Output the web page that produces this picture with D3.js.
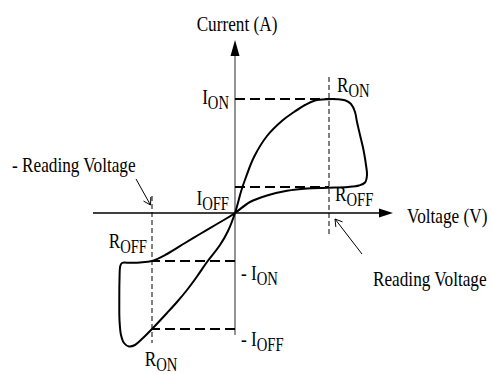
<!DOCTYPE html>
<html>
<head>
<meta charset="utf-8">
<script src="https://cdn.jsdelivr.net/npm/d3@7"></script>
<style>
  html, body { margin: 0; padding: 0; background: #fff; }
  svg { display: block; }
  text { font-family: "Liberation Serif", "Times New Roman", Times, serif; fill: #000; }
</style>
</head>
<body>
<script>
// Bipolar resistive-switching I–V sweep (voltage in V, current in arbitrary units).
// The sweep starts at 0 V, follows the OFF branch to +V, switches ON,
// returns through the origin along the ON branch to -V, switches OFF and comes back.
const sweepV = [0, 0.15, 0.32, 0.52, 0.72, 0.94, 1.13, 1.24, 1.30, 1.32, 1.31, 1.285, 1.25, 1.22, 1.20,
  1.16, 1.10, 1.02, 0.93, 0.80, 0.70, 0.59, 0.48, 0.32, 0.19, 0.11, 0.065,
  0, -0.07, -0.15, -0.28, -0.38, -0.48, -0.58, -0.68, -0.83, -0.92, -1.00, -1.06, -1.11, -1.14,
  -1.155, -1.157, -1.155, -1.147, -1.13, -1.05, -0.95, -0.83, -0.68, -0.50, -0.35, -0.18, -0.07];
const sweepI = [0, 0.11, 0.175, 0.222, 0.245, 0.252, 0.26, 0.275, 0.305, 0.38, 0.48, 0.63, 0.78, 0.91, 1.01,
  1.09, 1.127, 1.138, 1.138, 1.125, 1.08, 1.01, 0.93, 0.77, 0.56, 0.36, 0.23,
  0, -0.18, -0.32, -0.49, -0.635, -0.77, -0.89, -1.00, -1.16, -1.25, -1.32, -1.335, -1.30, -1.22,
  -1.07, -0.87, -0.67, -0.53, -0.50, -0.498, -0.495, -0.48, -0.41, -0.30, -0.21, -0.11, -0.045];

// Reading voltages (+ and -) and the current levels read there
const readVoltages = [0.94, -0.83];
const levelValues = [1.14, 0.26, -0.48, -1.16];   // I_ON, I_OFF, -I_ON, -I_OFF

// Axis extents
const vExtent = [-1.42, 1.58];
const iExtent = [-1.22, 1.73];

const W = 491, H = 374;
const svg = d3.select("body").append("svg").attr("width", W).attr("height", H);

const x = d3.scaleLinear().domain(vExtent).range([93, 393]);
const y = d3.scaleLinear().domain(iExtent).range([335, 40]);

// ---- axes -------------------------------------------------------------
const headLen = 14, headHalf = 4.5;
svg.append("line")
  .attr("x1", x(vExtent[0])).attr("x2", x(vExtent[1]) - headLen + 1)
  .attr("y1", y(0)).attr("y2", y(0))
  .attr("stroke", "#000").attr("stroke-width", 1.3);
svg.append("path")
  .attr("d", `M${x(vExtent[1])},${y(0)} L${x(vExtent[1]) - headLen},${y(0) - headHalf} L${x(vExtent[1]) - headLen},${y(0) + headHalf} Z`)
  .attr("fill", "#000");

svg.append("line")
  .attr("x1", x(0)).attr("x2", x(0))
  .attr("y1", y(iExtent[0])).attr("y2", y(iExtent[1]) + 16)
  .attr("stroke", "#666").attr("stroke-width", 1.4);
svg.append("path")
  .attr("d", `M${x(0)},${y(iExtent[1])} L${x(0) - headHalf},${y(iExtent[1]) + 16} L${x(0) + headHalf},${y(iExtent[1]) + 16} Z`)
  .attr("fill", "#000");

// ---- reading-voltage guides (thin dashed verticals) -------------------
const vGuideSpans = [[1.36, -0.24], [0.17, -1.30]];
readVoltages.forEach((v, k) => {
  svg.append("line")
    .attr("x1", x(v)).attr("x2", x(v))
    .attr("y1", y(vGuideSpans[k][0])).attr("y2", y(vGuideSpans[k][1]))
    .attr("stroke", "#000").attr("stroke-width", 1)
    .attr("stroke-dasharray", "5,3");
});

// ---- current-level guides (bold dashed horizontals) -------------------
const levelEnds = [1.05, readVoltages[0], readVoltages[1], readVoltages[1]];
levelValues.forEach((c, k) => {
  svg.append("line")
    .attr("x1", x(0)).attr("x2", x(levelEnds[k]))
    .attr("y1", y(c)).attr("y2", y(c))
    .attr("stroke", "#000").attr("stroke-width", 1.8)
    .attr("stroke-dasharray", "10,5");
});

// ---- hysteresis curve --------------------------------------------------
const pts = sweepV.map((v, k) => [v, sweepI[k]]);
const curve = d3.line()
  .x(d => x(d[0])).y(d => y(d[1]))
  .curve(d3.curveCatmullRomClosed.alpha(0.5));
svg.append("path")
  .attr("d", curve(pts))
  .attr("fill", "none").attr("stroke", "#000").attr("stroke-width", 2)
  .attr("stroke-linejoin", "round");

// ---- pointer arrows for the reading voltages --------------------------
function pointer(from, to) {
  const x0 = x(from[0]), y0 = y(from[1]), x1 = x(to[0]), y1 = y(to[1]);
  const a = Math.atan2(y0 - y1, x0 - x1), L = 8, s = 0.55;
  svg.append("path")
    .attr("d", `M${x0},${y0} L${x1},${y1} M${x1 + L * Math.cos(a - s)},${y1 + L * Math.sin(a - s)} L${x1},${y1} L${x1 + L * Math.cos(a + s)},${y1 + L * Math.sin(a + s)}`)
    .attr("fill", "none").attr("stroke", "#000").attr("stroke-width", 1);
}
pointer([-0.99, 0.34], [-0.845, 0.08]);
pointer([1.27, -0.41], [1.00, -0.06]);

// ---- labels -----------------------------------------------------------
function label(px, py, parts, anchor, size, squeeze) {
  const g = svg.append("g").attr("transform", `translate(${px},${py}) scale(${squeeze},1)`);
  const t = g.append("text").attr("text-anchor", anchor).attr("font-size", size);
  let down = false;
  parts.forEach(([str, sub]) => {
    const ts = t.append("tspan").text(str);
    if (sub && !down) { ts.attr("font-size", size * 0.85).attr("dy", 5); down = true; }
    else if (!sub && down) { ts.attr("dy", -5); down = false; }
  });
}
const F = 21, SQ = 0.82;
label(x(0) + 2, 31, [["Current (A)"]], "middle", F, SQ);
label(x(0) - 6, y(levelValues[0]) + 5, [["I"], ["ON", 1]], "end", F, SQ);
label(x(readVoltages[0]) + 8, y(levelValues[0]) - 7, [["R"], ["ON", 1]], "start", F, SQ);
label(x(0) - 6, y(0) - 8, [["I"], ["OFF", 1]], "end", F, SQ);
label(x(readVoltages[0]) + 6, y(0) - 12, [["R"], ["OFF", 1]], "start", F, SQ);
label(x(vExtent[1]) + 14, y(0) + 10, [["Voltage (V)"]], "start", F, SQ);
label(x(1.38), 286, [["Reading Voltage"]], "start", F, SQ);
label(12, 172, [["- Reading Voltage"]], "start", F, SQ);
label(x(readVoltages[1]) - 5, y(levelValues[2]) - 13, [["R"], ["OFF", 1]], "end", F, SQ);
label(x(0) + 6, y(levelValues[2]) + 19, [["- I"], ["ON", 1]], "start", F, SQ);
label(x(0) + 6, y(levelValues[3]) + 17, [["- I"], ["OFF", 1]], "start", F, SQ);
label(x(readVoltages[1]) + 9, y(levelValues[3]) + 37, [["R"], ["ON", 1]], "middle", F, SQ);
</script>
</body>
</html>
